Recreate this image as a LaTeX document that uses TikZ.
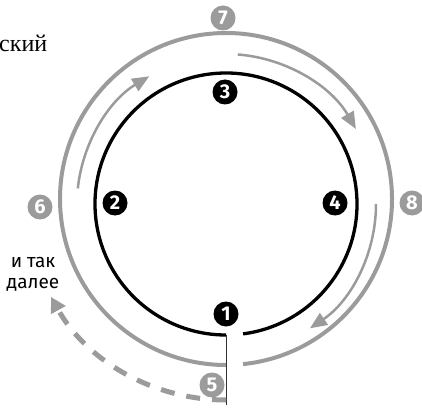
\documentclass[tikz,border=0pt]{standalone}
\usepackage{fontspec}
\setmainfont{Liberation Serif}
\newfontfamily\numfont{Fira Sans}
\newfontfamily\lblfont{Fira Sans}
\usetikzlibrary{arrows.meta,calc}
\definecolor{ringgray}{HTML}{9B9B9B}
\begin{document}
\begin{tikzpicture}[x=1pt,y=1pt,
  numblack/.style={circle,fill=black,text=white,inner sep=0pt,minimum size=25pt,font=\numfont\bfseries\fontsize{20}{20}\selectfont},
  numgray/.style={numblack,fill=ringgray},
  blackring/.style={line width=3.3pt,draw=black},
  grayring/.style={line width=4pt,draw=ringgray},
  flowarrow/.style={line width=2.5pt,draw=ringgray,-{Triangle[length=17pt,width=14pt]}},
  backarrow/.style={line width=5pt,draw=ringgray,dash pattern=on 14pt off 12pt,-{Triangle[length=15pt,width=16pt]}},
]
\useasboundingbox (0,0) rectangle (422,410);
\coordinate (cb) at (226,206);
\coordinate (cg) at (226,211);
\coordinate (cd) at (226,210);
\coordinate (ca) at (226,206);
% rings
\draw[grayring] ($(cg)+(-84.1:166pt)$) arc[start angle=-84.1,end angle=270,radius=166pt];
\draw[blackring] ($(cb)+(-82.5:131pt)$) arc[start angle=-82.5,end angle=270,radius=131pt];
% vertical divider
\coordinate (vtop) at (226,75);
\coordinate (vbot) at (226,5);
\draw[line width=1pt,draw=black!80] (vtop) -- (vbot);
% flow arrows
\draw[flowarrow] ($(ca)+(174:149pt)$) arc[start angle=174,end angle=121,radius=149pt];
\draw[flowarrow] ($(ca)+(85.5:150pt)$) arc[start angle=85.5,end angle=30,radius=150pt];
\draw[flowarrow] ($(ca)+(0:150pt)$) arc[start angle=0,end angle=-56,radius=150pt];
% dashed back arrow
\draw[backarrow] ($(cd)+(270:200pt)$) arc[start angle=270,end angle=209,radius=200pt];
% numbers
\node[numblack] (n1) at (226,96) {1};
\node[numblack] (n2) at (115,207) {2};
\node[numblack] (n3) at (225,318) {3};
\node[numblack] (n4) at (335,207) {4};
\node[numgray] (n5) at (212,25) {5};
\node[numgray] (n6) at (40,203) {6};
\node[numgray] (n7) at (223,392) {7};
\node[numgray] (n8) at (412,207) {8};
% texts
\node[font=\lblfont\fontsize{19}{21}\selectfont,align=center,inner sep=0pt] (more) at (33,136) {и так\\далее};
\node[font=\fontsize{24}{24}\selectfont,anchor=base west,inner sep=0pt] (title) at (-1,358) {ский};
\end{tikzpicture}
\end{document}
